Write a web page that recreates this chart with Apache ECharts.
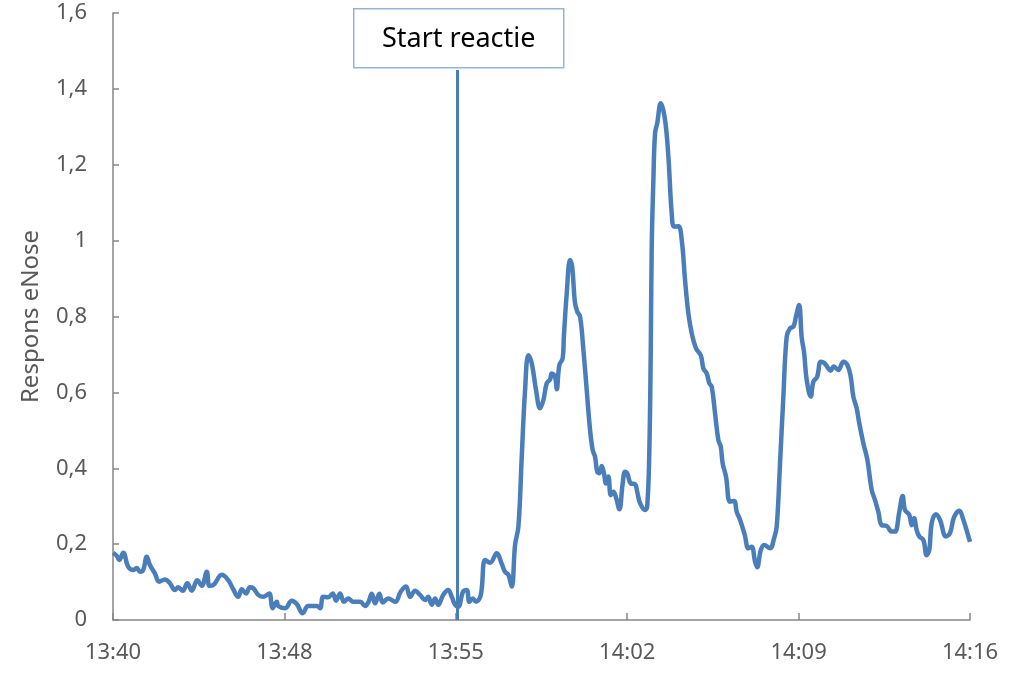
<!DOCTYPE html>
<html>
<head>
<meta charset="utf-8">
<script src="https://cdn.jsdelivr.net/npm/echarts@6/dist/echarts.min.js"></script>
<style>html,body{margin:0;padding:0;background:#fff;}#c{width:1024px;height:675px;}</style>
</head>
<body>
<div id="c"></div>
<script>
// minutes after 13:40
var minutes = [0.00,0.16,0.26,0.43,0.64,0.85,1.00,1.13,1.27,1.42,1.55,1.76,1.94,2.18,2.39,2.60,2.74,2.93,3.12,3.31,3.54,3.73,3.94,4.05,4.21,4.57,4.84,5.05,5.26,5.41,5.59,5.75,5.89,6.10,6.29,6.46,6.57,6.71,6.88,6.94,7.23,7.51,7.72,7.97,8.20,8.56,8.70,8.83,9.04,9.23,9.37,9.54,9.70,9.88,10.09,10.38,10.59,10.72,10.87,11.01,11.19,11.33,11.56,11.85,12.09,12.31,12.48,12.69,12.90,13.11,13.24,13.39,13.53,13.66,13.87,14.08,14.23,14.37,14.50,14.71,14.86,14.97,15.11,15.25,15.45,15.63,15.84,16.12,16.33,16.47,16.61,16.75,16.89,17.03,17.17,17.31,17.45,17.59,17.77,17.94,18.08,18.22,18.36,18.43,18.57,18.64,18.75,18.89,18.94,19.06,19.20,19.29,19.40,19.50,19.62,19.76,19.90,20.04,20.15,20.25,20.34,20.43,20.53,20.62,20.71,20.81,20.91,21.02,21.13,21.27,21.41,21.51,21.60,21.75,21.93,22.02,22.14,22.35,22.44,22.53,22.59,22.63,22.70,22.77,22.86,23.01,23.19,23.33,23.47,23.57,23.75,23.89,24.03,24.17,24.31,24.49,24.69,24.80,24.94,25.05,25.15,25.29,25.43,25.53,25.61,25.75,25.92,26.09,26.20,26.34,26.54,26.69,26.83,26.97,27.06,27.21,27.35,27.60,27.77,27.88,28.02,28.16,28.30,28.44,28.58,28.69,28.82,28.93,29.03,29.14,29.31,29.42,29.58,29.73,29.87,30.05,30.14,30.28,30.47,30.68,30.85,30.99,31.10,31.24,31.35,31.52,31.69,31.87,32.01,32.15,32.29,32.50,32.71,32.85,33.03,33.17,33.27,33.45,33.55,33.65,33.76,33.87,34.04,34.18,34.29,34.39,34.57,34.74,34.99,35.16,35.33,35.55,35.72,35.93,36.00];
var respons = [0.177,0.169,0.158,0.177,0.140,0.132,0.137,0.127,0.132,0.167,0.145,0.123,0.101,0.107,0.097,0.079,0.086,0.077,0.097,0.077,0.105,0.090,0.127,0.090,0.092,0.119,0.105,0.081,0.061,0.081,0.070,0.086,0.084,0.066,0.061,0.066,0.070,0.031,0.048,0.037,0.031,0.051,0.042,0.018,0.037,0.037,0.031,0.061,0.060,0.070,0.051,0.070,0.048,0.057,0.048,0.048,0.037,0.046,0.069,0.044,0.069,0.046,0.057,0.048,0.075,0.088,0.061,0.077,0.066,0.053,0.061,0.040,0.057,0.040,0.066,0.079,0.061,0.040,0.035,0.075,0.079,0.048,0.057,0.048,0.066,0.158,0.151,0.176,0.148,0.127,0.119,0.088,0.198,0.246,0.430,0.606,0.698,0.677,0.606,0.558,0.580,0.624,0.634,0.650,0.641,0.608,0.672,0.690,0.747,0.861,0.949,0.931,0.839,0.813,0.800,0.712,0.606,0.501,0.448,0.430,0.391,0.387,0.406,0.388,0.360,0.378,0.329,0.338,0.323,0.292,0.360,0.391,0.387,0.360,0.358,0.338,0.308,0.290,0.299,0.448,0.712,0.984,1.160,1.283,1.309,1.362,1.318,1.221,1.072,1.037,1.038,1.002,0.896,0.808,0.756,0.716,0.698,0.663,0.650,0.624,0.615,0.545,0.474,0.457,0.413,0.378,0.312,0.314,0.285,0.264,0.224,0.189,0.193,0.154,0.139,0.184,0.198,0.189,0.215,0.246,0.413,0.589,0.747,0.769,0.773,0.800,0.830,0.745,0.705,0.633,0.589,0.628,0.641,0.681,0.678,0.663,0.657,0.668,0.659,0.681,0.672,0.641,0.589,0.558,0.518,0.466,0.422,0.343,0.316,0.285,0.250,0.248,0.233,0.233,0.285,0.327,0.290,0.277,0.250,0.268,0.237,0.220,0.211,0.171,0.184,0.255,0.279,0.264,0.220,0.229,0.271,0.288,0.264,0.221,0.206];
var xTickLabels = ['13:40','13:48','13:55','14:02','14:09','14:16'];
var startMinute = 14.45;
var startLineTop = 1.45;
var startLabel = 'Start reactie';

var data = minutes.map(function(m, i){ return [m, respons[i]]; });
var font = 'Noto Sans';
var chart = echarts.init(document.getElementById('c'));
chart.setOption({
  animation: false,
  backgroundColor: '#ffffff',
  grid: {left: 113, right: 54, top: 13, bottom: 55, containLabel: false},
  xAxis: {
    type: 'value', min: 0, max: 36, interval: 7.2,
    axisLine: {show: true, lineStyle: {color: '#868686', width: 1.5}},
    axisTick: {show: true, inside: true, length: 7, lineStyle: {color: '#868686', width: 1.5}},
    splitLine: {show: false},
    axisLabel: {
      color: '#595959', fontSize: 22, fontFamily: font, margin: 22,
      formatter: function(v){ return xTickLabels[Math.round(v / 7.2)] || ''; }
    }
  },
  yAxis: {
    type: 'value', min: 0, max: 1.6, interval: 0.2,
    name: 'Respons eNose', nameLocation: 'middle', nameGap: 70, nameRotate: 90,
    nameTextStyle: {color: '#595959', fontSize: 24, fontFamily: font},
    axisLine: {show: true, lineStyle: {color: '#868686', width: 1.5}},
    axisTick: {show: true, inside: true, length: 6, lineStyle: {color: '#868686', width: 1.5}},
    splitLine: {show: false},
    axisLabel: {
      color: '#595959', fontSize: 22, fontFamily: font, margin: 26,
      formatter: function(v){ return (Math.round(v * 10) / 10).toString().replace('.', ','); }
    }
  },
  series: [{
    type: 'line', data: data, smooth: 0.4, showSymbol: false, symbol: 'none',
    lineStyle: {color: '#4a7ebb', width: 4.5},
    markLine: {
      silent: true, symbol: ['none', 'none'], label: {show: false},
      lineStyle: {color: '#4a7ebb', width: 3, type: 'solid'},
      data: [[{coord: [startMinute, 0]}, {coord: [startMinute, startLineTop]}]]
    }
  }],
  graphic: [{
    type: 'group', left: 353, top: 8,
    children: [
      {type: 'rect', shape: {x: 0, y: 0, width: 210, height: 59},
       style: {fill: '#ffffff', stroke: '#95b3d7', lineWidth: 1.5}},
      {type: 'text', x: 105, y: 31,
       style: {text: startLabel, fill: '#000000', font: '27px "Noto Sans"', align: 'center', verticalAlign: 'middle'}}
    ]
  }]
});
</script>
</body>
</html>
